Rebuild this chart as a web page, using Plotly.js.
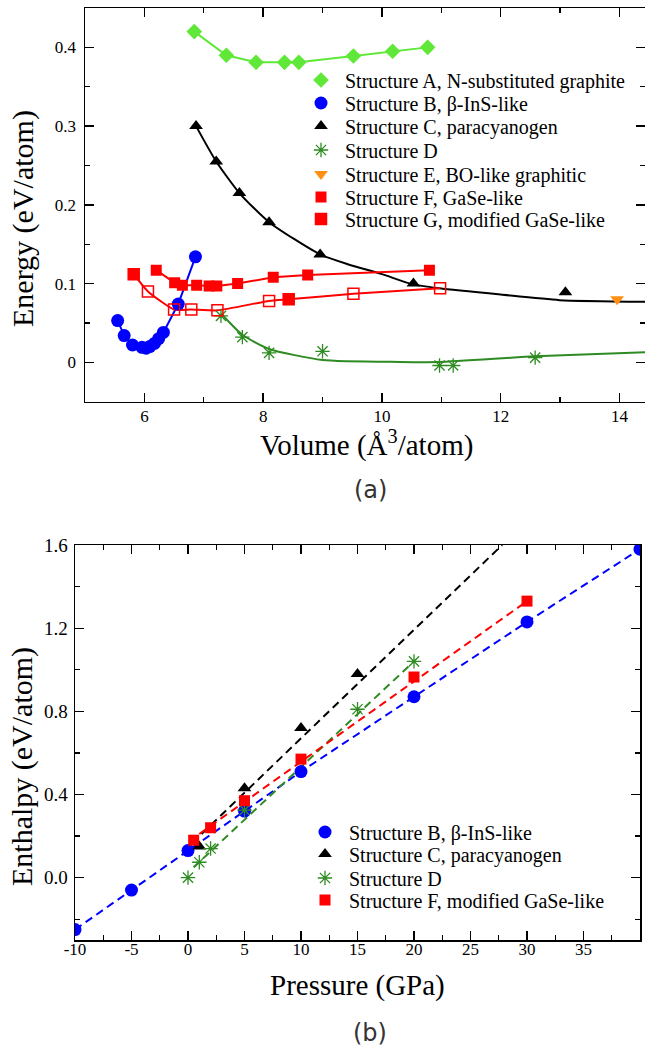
<!DOCTYPE html>
<html>
<head>
<meta charset="utf-8">
<script src="https://cdn.plot.ly/plotly-3.0.1.min.js"></script>
<style>
  html, body { margin: 0; padding: 0; background: #ffffff; }
  #chart { width: 645px; height: 1049px; }
</style>
</head>
<body>
<div id="chart"></div>
<script>
// ---------- Panel (a): Energy vs Volume ----------
const volA = [6.84, 7.38, 7.88, 8.36, 8.60, 9.52, 10.18, 10.77];
const enA  = [0.420, 0.390, 0.381, 0.381, 0.381, 0.389, 0.395, 0.400];

const volB = [5.55, 5.66, 5.80, 5.96, 6.03, 6.09, 6.17, 6.24, 6.32, 6.57, 6.86];
const enB  = [0.053, 0.034, 0.022, 0.019, 0.018, 0.020, 0.024, 0.030, 0.038, 0.074, 0.134];

const volC = [6.87, 7.21, 7.60, 8.10, 8.96, 10.53, 13.09];
const enC  = [0.300, 0.255, 0.215, 0.178, 0.137, 0.100, 0.089];
const volCfit = [6.87, 7.21, 7.60, 8.10, 8.96, 9.45, 10.0, 10.52, 10.97, 12.0, 12.99, 14.45];
const enCfit  = [0.300, 0.255, 0.215, 0.178, 0.137, 0.124, 0.112, 0.099, 0.094, 0.086, 0.079, 0.077];

const volD = [7.29, 7.65, 8.10, 9.00, 10.97, 11.20, 12.58];
const enD  = [0.059, 0.032, 0.012, 0.014, -0.004, -0.004, 0.006];
const volDfit = [7.29, 7.65, 8.10, 9.00, 10.30, 10.97, 12.58, 14.45];
const enDfit  = [0.062, 0.035, 0.017, 0.003, 0.0005, 0.0004, 0.0076, 0.013];

const volE = [13.96];
const enE  = [0.080];

const volF = [6.20, 6.51, 6.64, 6.88, 7.09, 7.22, 7.57, 8.17, 8.75, 10.80];
const enF  = [0.117, 0.101, 0.098, 0.098, 0.097, 0.097, 0.100, 0.108, 0.111, 0.117];

const volG = [5.82, 6.06, 6.50, 6.79, 7.23, 8.10, 8.43, 9.52, 10.98];
const enG  = [0.112, 0.090, 0.067, 0.067, 0.066, 0.078, 0.080, 0.087, 0.094];
const symG = ['square', 'square-open', 'square-open', 'square-open', 'square-open', 'square-open', 'square', 'square-open', 'square-open'];

const namesTop = [
  'Structure A, N-substituted graphite',
  'Structure B, \u03B2-InS-like',
  'Structure C, paracyanogen',
  'Structure D',
  'Structure E, BO-like graphitic',
  'Structure F, GaSe-like',
  'Structure G, modified GaSe-like'
];

// ---------- Panel (b): Enthalpy vs Pressure ----------
const presB = [-10, -5, 0, 5, 10, 20, 30, 40];
const enthB = [-0.25, -0.06, 0.13, 0.32, 0.51, 0.87, 1.23, 1.58];

const presC = [1, 5, 10, 15];
const enthC = [0.15, 0.43, 0.72, 0.98];
const presCfit = [1.2, 27.8];
const enthCfit = [0.21, 1.60];

const presD = [0, 1, 2, 5, 15, 20];
const enthD = [0.0, 0.074, 0.14, 0.325, 0.81, 1.04];
const presDfit = [0.5, 20];
const enthDfit = [0.05, 1.04];

const presF = [0.5, 2, 5, 10, 20, 30];
const enthF = [0.18, 0.24, 0.37, 0.57, 0.965, 1.33];
const presFfit = [1.0, 30];
const enthFfit = [0.21, 1.33];

const namesBottom = [
  'Structure B, \u03B2-InS-like',
  'Structure C, paracyanogen',
  'Structure D',
  'Structure F, modified GaSe-like'
];

const pressureTicks  = [-10, -5, 0, 5, 10, 15, 20, 25, 30, 35, 40];
const pressureLabels = ['-10', '-5', '0', '5', '10', '15', '20', '25', '30', '35', '40'];
const enthalpyTicks  = [0, 0.4, 0.8, 1.2, 1.6];
const enthalpyLabels = ['0.0', '0.4', '0.8', '1.2', '1.6'];

// ---------- colours ----------
const cLime = '#5fe838';
const cBlue = '#0000ff';
const cBlack = '#000000';
const cDGreen = '#2e8b22';
const cOrange = '#ff9012';
const cRed = '#ff0000';

const W = 645, H = 1049;
const px = v => v / W;
const py = v => 1 - v / H;

const serif = 'Liberation Serif';

// legend row positions (pixels)
const topLegendRows = [81, 104, 127, 151, 175, 198, 220];
const botLegendRows = [833, 855, 879, 901];
const legIds = ['legend', 'legend2', 'legend3', 'legend4', 'legend5', 'legend6', 'legend7', 'legend8', 'legend9', 'legend10', 'legend11'];

const traces = [];
// panel a lines
traces.push({x: volA, y: enA, mode: 'lines', line: {color: cLime, width: 2}, showlegend: false, xaxis: 'x', yaxis: 'y', hoverinfo: 'skip'});
traces.push({x: volB, y: enB, mode: 'lines', line: {color: cBlue, width: 2}, showlegend: false, xaxis: 'x', yaxis: 'y', hoverinfo: 'skip'});
traces.push({x: volCfit, y: enCfit, mode: 'lines', line: {color: cBlack, width: 2, shape: 'spline', smoothing: 0.6}, showlegend: false, xaxis: 'x', yaxis: 'y', hoverinfo: 'skip'});
traces.push({x: volDfit, y: enDfit, mode: 'lines', line: {color: cDGreen, width: 2, shape: 'spline', smoothing: 0.6}, showlegend: false, xaxis: 'x', yaxis: 'y', hoverinfo: 'skip'});
traces.push({x: volF, y: enF, mode: 'lines', line: {color: cRed, width: 2}, showlegend: false, xaxis: 'x', yaxis: 'y', hoverinfo: 'skip'});
traces.push({x: volG, y: enG, mode: 'lines', line: {color: cRed, width: 2, shape: 'spline', smoothing: 0.5}, showlegend: false, xaxis: 'x', yaxis: 'y', hoverinfo: 'skip'});
// panel a markers
traces.push({x: volA, y: enA, name: namesTop[0], mode: 'markers', marker: {symbol: 'diamond', size: 12, color: cLime}, xaxis: 'x', yaxis: 'y', legend: legIds[0]});
traces.push({x: volB, y: enB, name: namesTop[1], mode: 'markers', marker: {symbol: 'circle', size: 13, color: cBlue}, xaxis: 'x', yaxis: 'y', legend: legIds[1]});
traces.push({x: volC, y: enC, name: namesTop[2], mode: 'markers', marker: {symbol: 'triangle-up', size: 12, color: cBlack}, xaxis: 'x', yaxis: 'y', legend: legIds[2]});
traces.push({x: volD, y: enD, name: namesTop[3], mode: 'markers', marker: {symbol: 'asterisk-open', size: 12, color: cDGreen, line: {color: cDGreen, width: 1.3}}, xaxis: 'x', yaxis: 'y', legend: legIds[3]});
traces.push({x: volE, y: enE, name: namesTop[4], mode: 'markers', marker: {symbol: 'triangle-down', size: 12, color: cOrange}, xaxis: 'x', yaxis: 'y', legend: legIds[4]});
traces.push({x: volF, y: enF, name: namesTop[5], mode: 'markers', marker: {symbol: 'square', size: 11, color: cRed}, xaxis: 'x', yaxis: 'y', legend: legIds[5]});
traces.push({x: volG, y: enG, name: namesTop[6], mode: 'markers', marker: {symbol: symG, size: 11, color: cRed, line: {color: cRed, width: 1.5}}, xaxis: 'x', yaxis: 'y', legend: legIds[6]});

// panel b lines
const dashB = '8px,5px';
traces.push({x: presB, y: enthB, mode: 'lines', line: {color: cBlue, width: 2, dash: dashB}, showlegend: false, xaxis: 'x2', yaxis: 'y2', hoverinfo: 'skip'});
traces.push({x: presCfit, y: enthCfit, mode: 'lines', line: {color: cBlack, width: 2, dash: dashB}, showlegend: false, xaxis: 'x2', yaxis: 'y2', hoverinfo: 'skip'});
traces.push({x: presDfit, y: enthDfit, mode: 'lines', line: {color: cDGreen, width: 2, dash: dashB}, showlegend: false, xaxis: 'x2', yaxis: 'y2', hoverinfo: 'skip'});
traces.push({x: presFfit, y: enthFfit, mode: 'lines', line: {color: cRed, width: 2, dash: dashB}, showlegend: false, xaxis: 'x2', yaxis: 'y2', hoverinfo: 'skip'});
// panel b markers
traces.push({x: presB, y: enthB, name: namesBottom[0], mode: 'markers', marker: {symbol: 'circle', size: 13, color: cBlue}, xaxis: 'x2', yaxis: 'y2', legend: legIds[7]});
traces.push({x: presC, y: enthC, name: namesBottom[1], mode: 'markers', marker: {symbol: 'triangle-up', size: 12, color: cBlack}, xaxis: 'x2', yaxis: 'y2', legend: legIds[8]});
traces.push({x: presD, y: enthD, name: namesBottom[2], mode: 'markers', marker: {symbol: 'asterisk-open', size: 12, color: cDGreen, line: {color: cDGreen, width: 1.3}}, xaxis: 'x2', yaxis: 'y2', legend: legIds[9]});
traces.push({x: presF, y: enthF, name: namesBottom[3], mode: 'markers', marker: {symbol: 'square', size: 11, color: cRed}, xaxis: 'x2', yaxis: 'y2', legend: legIds[10]});

const axCommon = {
  showgrid: false, zeroline: false, showline: true, linecolor: '#000', linewidth: 1.5,
  mirror: 'allticks', ticks: 'inside', ticklen: 9, tickwidth: 1.3, tickcolor: '#000',
};

const layout = {
  width: W, height: H,
  margin: {l: 0, r: 0, t: 0, b: 0},
  paper_bgcolor: '#ffffff', plot_bgcolor: '#ffffff',
  font: {family: serif, color: '#000'},
  showlegend: true,
  xaxis: Object.assign({}, axCommon, {
    domain: [px(85), 1], range: [5, 14.43], tick0: 0, dtick: 2,
    minor: {dtick: 1, ticks: 'inside', ticklen: 5, tickwidth: 1.3, tickcolor: '#000'},
    tickfont: {family: serif, size: 17}, anchor: 'y', ticklabelstandoff: -2
  }),
  yaxis: Object.assign({}, axCommon, {
    domain: [py(401.7), py(8)], range: [-0.05, 0.45], tick0: 0, dtick: 0.1,
    minor: {dtick: 0.05, ticks: 'inside', ticklen: 5, tickwidth: 1.3, tickcolor: '#000'},
    tickfont: {family: serif, size: 17}, anchor: 'x', ticklabelstandoff: 4
  }),
  xaxis2: Object.assign({}, axCommon, {
    domain: [px(75), px(640)], range: [-10, 40],
    tickmode: 'array', tickvals: pressureTicks, ticktext: pressureLabels,
    minor: {tickmode: 'linear', tick0: 0, dtick: 2.5, ticks: 'inside', ticklen: 5, tickwidth: 1.3, tickcolor: '#000'},
    tickfont: {family: serif, size: 17}, anchor: 'y2', ticklabelstandoff: -7
  }),
  yaxis2: Object.assign({}, axCommon, {
    domain: [py(940), py(545)], range: [-0.3, 1.6],
    tickmode: 'array', tickvals: enthalpyTicks, ticktext: enthalpyLabels,
    minor: {tickmode: 'linear', tick0: 0, dtick: 0.2, ticks: 'inside', ticklen: 5, tickwidth: 1.3, tickcolor: '#000'},
    tickfont: {family: serif, size: 19}, anchor: 'x2', ticklabelstandoff: 2
  }),
  annotations: [
    {text: 'Energy (eV/atom)', xref: 'paper', yref: 'paper', x: px(23), y: py(219), textangle: -90,
     showarrow: false, xanchor: 'center', yanchor: 'middle', font: {family: serif, size: 30, color: '#000'}},
    {text: 'Volume (\u00C5<sup>3</sup>/atom)', xref: 'paper', yref: 'paper', x: px(366), y: py(443),
     showarrow: false, xanchor: 'center', yanchor: 'middle', font: {family: serif, size: 29, color: '#000'}},
    {text: '(a)', xref: 'paper', yref: 'paper', x: px(370), y: py(490),
     showarrow: false, xanchor: 'center', yanchor: 'middle', font: {family: 'DejaVu Sans', size: 24, color: '#333'}},
    {text: 'Enthalpy (eV/atom)', xref: 'paper', yref: 'paper', x: px(22), y: py(767), textangle: -90,
     showarrow: false, xanchor: 'center', yanchor: 'middle', font: {family: serif, size: 30, color: '#000'}},
    {text: 'Pressure (GPa)', xref: 'paper', yref: 'paper', x: px(357), y: py(985),
     showarrow: false, xanchor: 'center', yanchor: 'middle', font: {family: serif, size: 29, color: '#000'}},
    {text: '(b)', xref: 'paper', yref: 'paper', x: px(370), y: py(1033),
     showarrow: false, xanchor: 'center', yanchor: 'middle', font: {family: 'DejaVu Sans', size: 24, color: '#333'}}
  ]
};

// one legend box per entry so that the row spacing matches the reference
const legOffset = 20.5;
function legBox(symX, rowY) {
  return {
    x: px(symX - 24), xanchor: 'left', y: py(rowY - legOffset), yanchor: 'top',
    bgcolor: 'rgba(0,0,0,0)', borderwidth: 0, itemwidth: 38,
    font: {family: serif, size: 20, color: '#000'}, itemclick: false, itemdoubleclick: false
  };
}
topLegendRows.forEach((r, i) => { layout[legIds[i]] = legBox(321, r); });
botLegendRows.forEach((r, i) => { layout[legIds[7 + i]] = legBox(325, r); });

Plotly.newPlot('chart', traces, layout, {displayModeBar: false, staticPlot: true});
</script>
</body>
</html>
